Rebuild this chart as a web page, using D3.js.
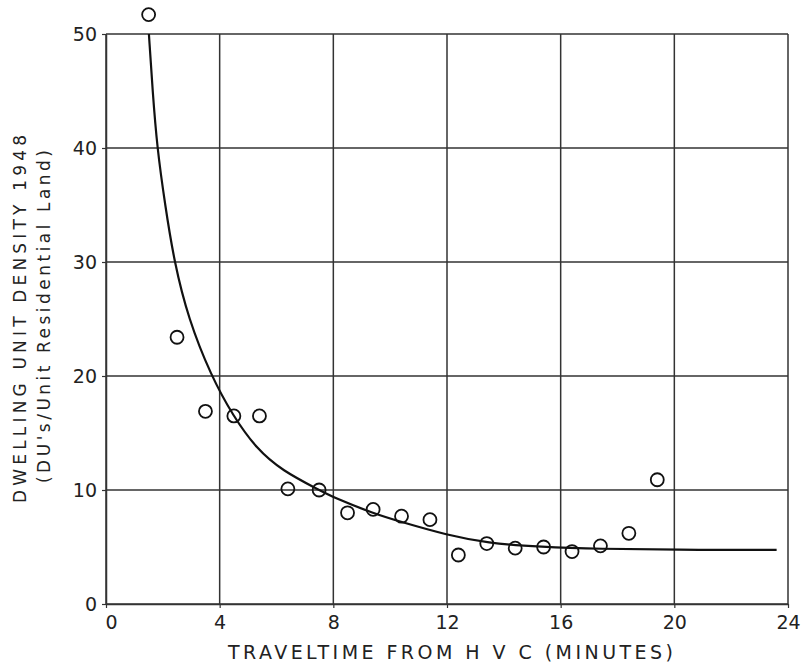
<!DOCTYPE html>
<html>
<head>
<meta charset="utf-8">
<script src="https://cdn.jsdelivr.net/npm/d3@7"></script>
<style>
  body { margin: 0; background: #fff; }
  text { font-family: "DejaVu Sans", sans-serif; fill: #222; }
</style>
</head>
<body>
<script>
// observed points (traveltime in minutes, density)
var travelTime = [1.5, 2.5, 3.5, 4.5, 5.4, 6.4, 7.5, 8.5, 9.4, 10.4, 11.4, 12.4, 13.4, 14.4, 15.4, 16.4, 17.4, 18.4, 19.4],
    density    = [51.7, 23.4, 16.9, 16.5, 16.5, 10.1, 10.0, 8.0, 8.3, 7.7, 7.4, 4.3, 5.3, 4.9, 5.0, 4.6, 5.1, 6.2, 10.9];

// fitted curve
var curveX = [1.51, 1.64, 1.8, 2.08, 2.4, 2.9, 3.7, 4.47, 5.3, 6.2, 7.5, 8.0, 9.4, 10.45, 12.0, 13.4, 15.3, 17.4, 20, 23.6],
    curveY = [50, 45, 40, 35, 30, 25, 20, 16.5, 13.6, 11.7, 10.0, 9.35, 7.95, 7.15, 6.05, 5.35, 5.0, 4.83, 4.75, 4.74];

var xTicks = [0, 4, 8, 12, 16, 20, 24],
    yTicks = [0, 10, 20, 30, 40, 50];

var width = 801,
    height = 664,
    pLeft = 106, pRight = 788, pTop = 34, pBottom = 604,
    gridColor = "#333";

var xSc = d3.scaleLinear().domain([0, 24]).range([pLeft, pRight]),
    ySc = d3.scaleLinear().domain([0, 50]).range([pBottom, pTop]);

var svg = d3.select("body").append("svg")
  .attr("width", width)
  .attr("height", height);

// grid
svg.append("g").selectAll("line")
  .data(xTicks)
  .enter().append("line")
    .attr("x1", function(d) { return xSc(d); })
    .attr("x2", function(d) { return xSc(d); })
    .attr("y1", pTop)
    .attr("y2", pBottom)
    .style("stroke", gridColor)
    .style("stroke-width", 1.5);

svg.append("g").selectAll("line")
  .data(yTicks)
  .enter().append("line")
    .attr("x1", pLeft)
    .attr("x2", pRight)
    .attr("y1", function(d) { return ySc(d); })
    .attr("y2", function(d) { return ySc(d); })
    .style("stroke", gridColor)
    .style("stroke-width", 1.5);

// axes
var xAxis = d3.axisBottom(xSc).tickValues(xTicks).tickSize(4).tickPadding(8).tickSizeOuter(0);
var yAxis = d3.axisLeft(ySc).tickValues(yTicks).tickSize(4).tickPadding(5).tickSizeOuter(0);

var gx = svg.append("g")
  .attr("transform", "translate(0," + pBottom + ")")
  .call(xAxis);
var gy = svg.append("g")
  .attr("transform", "translate(" + pLeft + ",0)")
  .call(yAxis);

[gx, gy].forEach(function(g) {
  g.select(".domain").style("stroke", gridColor).style("stroke-width", 1.5);
  g.selectAll(".tick line").style("stroke", gridColor).style("stroke-width", 1.2);
  g.selectAll("text")
    .style("font-family", "'DejaVu Sans', sans-serif")
    .style("font-size", "19px")
    .style("fill", "#222");
});
gx.selectAll(".tick").filter(function(d) { return d === 0; }).select("text").attr("dx", 5);

// fitted curve
var line = d3.line()
  .x(function(d, i) { return xSc(d); })
  .y(function(d, i) { return ySc(curveY[i]); })
  .curve(d3.curveBasis);

svg.append("path")
  .attr("d", line(curveX))
  .style("fill", "none")
  .style("stroke", "#111")
  .style("stroke-width", 2.2);

// points
svg.append("g").selectAll("circle")
  .data(travelTime)
  .enter().append("circle")
    .attr("cx", function(d) { return xSc(d); })
    .attr("cy", function(d, i) { return ySc(density[i]); })
    .attr("r", 6.5)
    .style("fill", "none")
    .style("stroke", "#111")
    .style("stroke-width", 1.8);

// axis titles
svg.append("text")
  .attr("x", 228)
  .attr("y", 659)
  .attr("textLength", 445)
  .attr("lengthAdjust", "spacing")
  .style("font-size", "19px")
  .text("TRAVELTIME  FROM  H V C   (MINUTES)");

svg.append("text")
  .attr("transform", "translate(26,503) rotate(-90)")
  .attr("textLength", 368)
  .attr("lengthAdjust", "spacing")
  .style("font-size", "17px")
  .text("DWELLING UNIT DENSITY 1948");

svg.append("text")
  .attr("transform", "translate(50,483) rotate(-90)")
  .attr("textLength", 333)
  .attr("lengthAdjust", "spacing")
  .style("font-size", "17px")
  .text("(DU's/Unit Residential Land)");
</script>
</body>
</html>
